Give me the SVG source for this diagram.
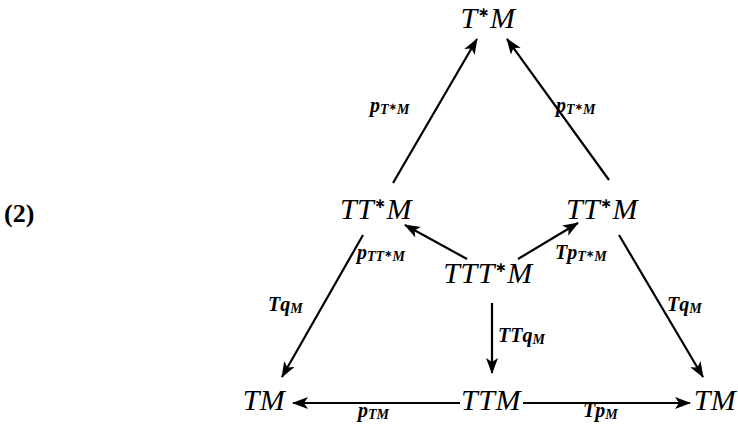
<svg xmlns="http://www.w3.org/2000/svg" width="738" height="427" viewBox="0 0 738 427">
<style>
.n{font-family:"Liberation Serif","DejaVu Serif",serif;font-style:italic;font-size:30px;fill:#000;text-anchor:middle;letter-spacing:0.5px}
.l{font-family:"Liberation Serif","DejaVu Serif",serif;font-style:italic;font-weight:bold;font-size:20px;fill:#000}
.s{font-size:14px}
.st{font-family:"DejaVu Sans",sans-serif;font-size:14px;font-style:normal;font-weight:bold;fill:#000}
.ss{font-family:"DejaVu Sans",sans-serif;font-size:10px;font-style:normal;font-weight:bold;fill:#000}
.e{stroke:#000;stroke-width:2.2;fill:none;marker-end:url(#ah)}
.eq{font-family:"Liberation Serif","DejaVu Serif",serif;font-weight:bold;font-size:26px;fill:#000}
</style>
<defs>
<marker id="ah" markerUnits="userSpaceOnUse" viewBox="0 -6 16 12" refX="15" refY="0" markerWidth="16" markerHeight="12" orient="auto">
<path d="M0,-6 L16,0 L0,6 L4,0 z" fill="#000"/>
</marker>
</defs>
<text class="eq" x="4" y="222">(2)</text>
<g id="n-TsM"><text class="n" x="488" y="28">T<tspan class="st" dy="-11">∗</tspan><tspan dy="11">M</tspan></text></g>
<g id="n-TTsM-l"><text class="n" x="376" y="219">TT<tspan class="st" dy="-11">∗</tspan><tspan dy="11">M</tspan></text></g>
<g id="n-TTsM-r"><text class="n" x="602" y="219">TT<tspan class="st" dy="-11">∗</tspan><tspan dy="11">M</tspan></text></g>
<g id="n-TTTsM"><text class="n" x="488" y="283">TTT<tspan class="st" dy="-11">∗</tspan><tspan dy="11">M</tspan></text></g>
<g id="n-TM-l"><text class="n" x="264" y="410">TM</text></g>
<g id="n-TTM"><text class="n" x="491" y="410">TTM</text></g>
<g id="n-TM-r"><text class="n" x="715" y="410">TM</text></g>
<g id="connectors">
<line class="e" x1="393" y1="183" x2="477" y2="39"/>
<line class="e" x1="609" y1="180" x2="507" y2="39"/>
<line class="e" x1="467" y1="259" x2="405" y2="225"/>
<line class="e" x1="518" y1="259" x2="578" y2="223"/>
<line class="e" x1="363" y1="235" x2="282" y2="377"/>
<line class="e" x1="619" y1="235" x2="703" y2="377"/>
<line class="e" x1="492" y1="303" x2="492" y2="373"/>
<line class="e" x1="460" y1="403" x2="293" y2="403"/>
<line class="e" x1="523" y1="403" x2="690" y2="403"/>
</g>
<g id="labels">
<text class="l" x="370" y="112">p<tspan class="s" dy="2">T</tspan><tspan class="ss" dy="-4">∗</tspan><tspan class="s" dy="4">M</tspan></text>
<text class="l" x="556" y="112">p<tspan class="s" dy="2">T</tspan><tspan class="ss" dy="-4">∗</tspan><tspan class="s" dy="4">M</tspan></text>
<text class="l" x="357" y="259">p<tspan class="s" dy="2">TT</tspan><tspan class="ss" dy="-4">∗</tspan><tspan class="s" dy="4">M</tspan></text>
<text class="l" x="555" y="259">Tp<tspan class="s" dy="2">T</tspan><tspan class="ss" dy="-4">∗</tspan><tspan class="s" dy="4">M</tspan></text>
<text class="l" x="268" y="311">Tq<tspan class="s" dy="2">M</tspan></text>
<text class="l" x="667" y="311">Tq<tspan class="s" dy="2">M</tspan></text>
<text class="l" x="498" y="342">TTq<tspan class="s" dy="2">M</tspan></text>
<text class="l" x="358" y="417">p<tspan class="s" dy="2">TM</tspan></text>
<text class="l" x="583" y="417">Tp<tspan class="s" dy="2">M</tspan></text>
</g>
</svg>
